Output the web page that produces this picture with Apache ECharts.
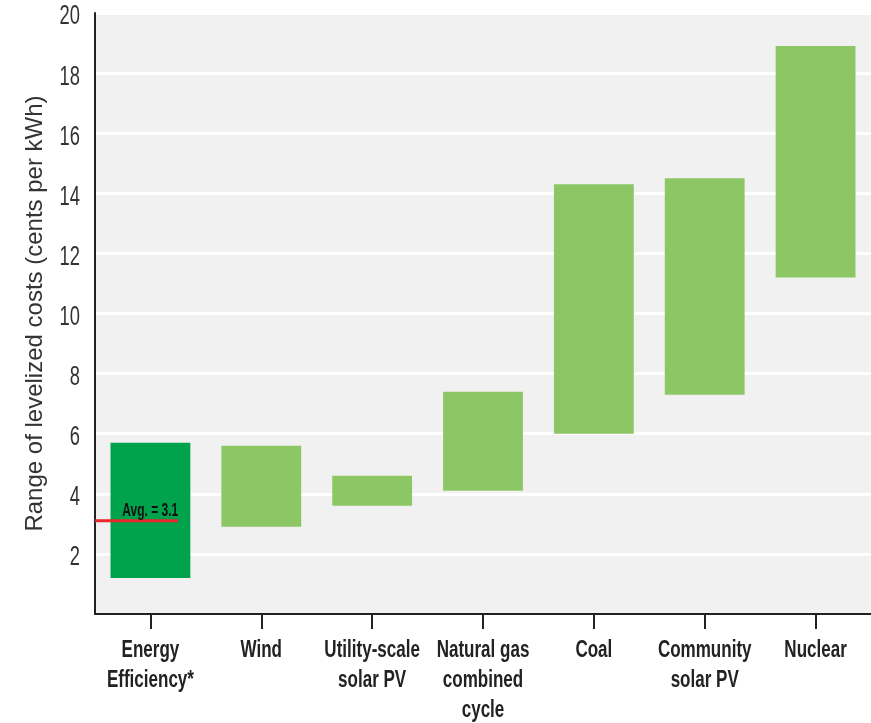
<!DOCTYPE html>
<html>
<head>
<meta charset="utf-8">
<script src="https://cdn.jsdelivr.net/npm/echarts@6/dist/echarts.min.js"></script>
<style>
  html, body { margin: 0; padding: 0; background: #ffffff; }
  #chart { width: 871px; height: 723px; }
</style>
</head>
<body>
<div id="chart"></div>
<script>
// Levelized cost ranges (cents per kWh) by resource
const categories = [
  'Energy\nEfficiency*',
  'Wind',
  'Utility-scale\nsolar PV',
  'Natural gas\ncombined\ncycle',
  'Coal',
  'Community\nsolar PV',
  'Nuclear'
];
const lowCost  = [1.2, 2.9, 3.6, 4.1, 6.0, 7.3, 11.2];
const highCost = [5.7, 5.6, 4.6, 7.4, 14.3, 14.5, 18.9];
const avgIndex = 0;
const avgValue = 3.1;
const yTicks = [0, 2, 4, 6, 8, 10, 12, 14, 16, 18, 20];
const yTickLabels = ['', '2', '4', '6', '8', '10', '12', '14', '16', '18', '20'];

const DARK_GREEN = '#00a24b';
const LIGHT_GREEN = '#8cc665';
const SANS = '"Liberation Sans", Arial, sans-serif';

// Condensed look: text drawn horizontally squeezed around its anchor point
function squeezedText(x, y, text, font, fill, align, vAlign, sx, lineHeight) {
  return {
    type: 'text',
    x: x, y: y, scaleX: sx,
    style: {
      text: text, x: 0, y: 0,
      align: align, verticalAlign: vAlign,
      font: font, fill: fill,
      lineHeight: lineHeight
    }
  };
}

const chart = echarts.init(document.getElementById('chart'), null, { renderer: 'canvas' });

chart.setOption({
  backgroundColor: '#ffffff',
  animation: false,
  grid: {
    left: 95, top: 13, width: 785, height: 601,
    show: true, backgroundColor: '#f1f1f1', borderWidth: 0
  },
  xAxis: {
    type: 'category',
    data: categories,
    boundaryGap: true,
    axisLine: { show: true, lineStyle: { color: '#222', width: 2 } },
    axisTick: { show: true, alignWithLabel: true, length: 15, lineStyle: { color: '#222', width: 2 } },
    axisLabel: { show: false },
    splitLine: { show: false }
  },
  yAxis: {
    type: 'value',
    min: yTicks[0],
    max: yTicks[yTicks.length - 1],
    interval: yTicks[1] - yTicks[0],
    name: 'Range of levelized costs (cents per kWh)',
    nameLocation: 'middle',
    nameGap: 48,
    nameTextStyle: { color: '#333', fontFamily: SANS, fontSize: 24 },
    axisLine: { show: true, lineStyle: { color: '#222', width: 2 } },
    axisTick: { show: false },
    axisLabel: { show: false },
    splitLine: { show: true, lineStyle: { color: '#ffffff', width: 3 } }
  },
  series: [
    {
      // invisible base lifting each range to its low value
      type: 'bar',
      stack: 'range',
      silent: true,
      barWidth: '72%',
      itemStyle: { color: 'transparent' },
      data: lowCost
    },
    {
      type: 'bar',
      stack: 'range',
      barWidth: '72%',
      data: highCost.map((h, i) => ({
        value: +(h - lowCost[i]).toFixed(2),
        itemStyle: { color: i === avgIndex ? DARK_GREEN : LIGHT_GREEN }
      }))
    },
    {
      // category names under the ticks
      type: 'custom',
      silent: true,
      clip: false,
      data: categories.map((c, i) => [i, 0]),
      renderItem(params, api) {
        const i = api.value(0);
        const p = api.coord([i, 0]);
        return squeezedText(p[0], p[1] + 22, categories[i],
          'bold 23px ' + SANS, '#222', 'center', 'top', 0.74, 30);
      }
    },
    {
      // value tick labels left of the axis
      type: 'custom',
      silent: true,
      clip: false,
      data: yTicks.map((v, i) => [0, v, i]),
      renderItem(params, api) {
        const p = api.coord([0, api.value(1)]);
        const band = api.size([1, 0])[0];
        return squeezedText(p[0] - band / 2 - 15, p[1] + 4, yTickLabels[api.value(2)],
          '27px ' + SANS, '#333', 'right', 'middle', 0.68);
      }
    },
    {
      // average marker: red rule from the axis into the bar, with its label
      type: 'custom',
      z: 10,
      clip: false,
      data: [[avgIndex, avgValue]],
      renderItem(params, api) {
        const c = api.coord([api.value(0), api.value(1)]);
        const band = api.size([1, 0])[0];
        const x0 = c[0] - band / 2;
        const x1 = c[0] + band * 0.25;
        return {
          type: 'group',
          children: [
            {
              type: 'line',
              shape: { x1: x0, y1: c[1], x2: x1, y2: c[1] },
              style: { stroke: '#e8262b', lineWidth: 3 }
            },
            squeezedText(x1, c[1] - 1, 'Avg. = ' + api.value(1),
              'bold 19px ' + SANS, '#111', 'right', 'bottom', 0.63)
          ]
        };
      }
    }
  ]
});
</script>
</body>
</html>
